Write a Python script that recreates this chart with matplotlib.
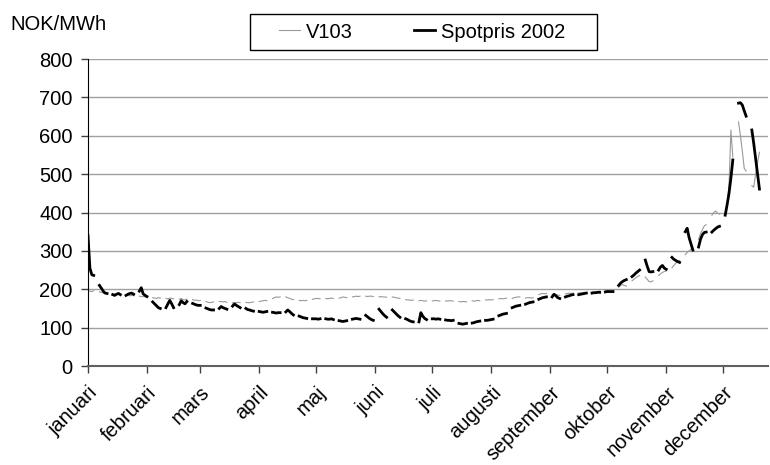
import matplotlib
matplotlib.use("Agg")
import matplotlib.pyplot as plt
from matplotlib.patches import Rectangle
import numpy as np
import pandas as pd

plt.rcParams['font.family'] = ['Liberation Sans', 'DejaVu Sans']

months = ['januari', 'februari', 'mars', 'april', 'maj', 'juni', 'juli',
          'augusti', 'september', 'oktober', 'november', 'december']

# weekday values (Mon-Fri) for 2002, one line per month
spot = [
    340, 255, 238, 236, 210, 203, 195, 190, 189, 186, 184, 187, 189, 186, 184, 187, 189, 190, 187, 195, 204, 188, 184,
    181, 167, 162, 157, 152, 150, 152, 162, 171, 162, 152, 160, 170, 165, 162, 168, 163, 161, 159, 158,
    158, 151, 149, 147, 146, 146, 150, 155, 152, 150, 148, 156, 162, 158, 155, 152, 150, 147, 146, 144, 143,
    142, 141, 140, 141, 142, 140, 139, 138, 139, 139, 141, 146, 142, 137, 133, 130, 128, 126, 125, 124, 123, 123,
    123, 122, 123, 123, 122, 122, 123, 121, 118, 117, 116, 117, 118, 122, 123, 124, 123, 122, 132, 128, 124, 121, 119,
    148, 142, 136, 131, 127, 146, 141, 136, 131, 127, 123, 121, 118, 116, 115, 115, 139, 130, 124, 121,
    123, 123, 122, 123, 122, 120, 119, 119, 118, 119, 111, 110, 109, 110, 111, 112, 113, 115, 116, 117, 119, 119, 120,
    121, 122, 131, 133, 135, 136, 137, 152, 154, 156, 157, 158, 161, 163, 165, 166, 167, 174, 176, 178, 179, 180,
    180, 187, 183, 178, 176, 180, 182, 183, 185, 186, 186, 187, 188, 189, 190, 190, 191, 191, 192, 192, 193,
    194, 194, 194, 194, 210, 216, 220, 223, 225, 233, 237, 242, 246, 250, 276, 260, 246, 245, 246, 250, 258, 262, 255,
    252, 283, 278, 275, 272, 270, 350, 359, 335, 318, 302, 310, 330, 342, 348, 349, 349, 354, 358, 362, 364,
    393, 420, 450, 490, 537, 685, 686, 680, 665, 651, 615, 580, 540, 500, 461,
]

v103 = [
    196, 195, 194, 196, 193, 192, 190, 189, 190, 188, 187, 186, 187, 186, 185, 184, 183, 184, 183, 182, 181, 181, 180,
    180, 178, 177, 176, 178, 177, 176, 175, 177, 176, 175, 174, 176, 173, 172, 174, 173, 171, 172, 170,
    171, 168, 166, 165, 166, 167, 168, 168, 167, 168, 166, 165, 164, 165, 166, 165, 166, 165, 165, 166, 167,
    168, 169, 170, 171, 170, 176, 178, 180, 179, 180, 180, 178, 176, 174, 173, 171, 170, 171, 170, 171, 174, 175,
    176, 176, 175, 176, 175, 176, 177, 176, 177, 178, 180, 179, 178, 180, 181, 182, 181, 182, 182, 181, 182, 182, 181,
    180, 181, 180, 180, 179, 180, 179, 178, 177, 176, 173, 172, 172, 171, 172, 170, 171, 170, 169, 170,
    170, 170, 171, 170, 169, 170, 169, 170, 170, 169, 168, 167, 168, 168, 167, 170, 169, 170, 171, 170, 172, 172, 173,
    172, 173, 175, 176, 175, 176, 177, 176, 178, 179, 180, 180, 177, 178, 178, 177, 178, 186, 188, 189, 188, 189,
    186, 185, 186, 185, 184, 188, 189, 190, 189, 190, 191, 190, 191, 192, 191, 193, 192, 193, 194, 195, 196,
    197, 198, 199, 198, 206, 210, 212, 210, 208, 222, 226, 230, 233, 236, 232, 226, 220, 219, 222, 236, 240, 244, 246,
    248, 256, 262, 268, 272, 275, 290, 296, 300, 304, 307, 330, 345, 355, 365, 368, 393, 400, 404, 398, 396,
    398, 420, 470, 615, 545, 636, 600, 560, 515, 508, 470, 466, 500, 530, 557,
]

workdays = pd.bdate_range('2002-01-01', '2002-12-20')
alldays = pd.date_range('2002-01-01', '2002-12-20')
s_spot = pd.Series(spot, index=workdays).reindex(alldays)
s_v103 = pd.Series(v103, index=workdays).reindex(alldays)

W, H = 770, 465
fs = 14.5
fig = plt.figure(figsize=(W / 100, H / 100), dpi=100)
ax = fig.add_axes([88 / W, 99 / H, 680 / W, 307 / H])

l1, = ax.plot(alldays, s_v103.values, color='#999999', lw=0.8, label='V103')
l2, = ax.plot(alldays, s_spot.values, color='black', lw=2.0, label='Spotpris 2002')

ax.set_ylim(0, 800)
ax.set_yticks(np.arange(0, 801, 100))
ax.yaxis.grid(True, color='#a0a0a0', lw=1)
ax.set_axisbelow(True)
ax.set_xlim(pd.Timestamp('2002-01-01'), pd.Timestamp('2002-12-24 12:00'))
ax.set_xticks(pd.date_range('2002-01-01', periods=12, freq='MS'))
ax.set_xticklabels(months, rotation=45, ha='right', rotation_mode='anchor')
ax.tick_params(axis='both', direction='out', length=5, width=1, labelsize=fs, color='#404040')
ax.tick_params(axis='x', pad=7)
ax.tick_params(axis='y', pad=6)
for side in ['top', 'right']:
    ax.spines[side].set_visible(False)
ax.spines['left'].set_color('black')
ax.spines['bottom'].set_color('#606060')
ax.spines['bottom'].set_linewidth(1.5)

fig.text(10 / W, 1 - 24 / H, 'NOK/MWh', fontsize=fs, va='center', ha='left')

# legend box drawn as a plain rectangle, entries as a frameless legend
fig.patches.append(Rectangle((250 / W, 1 - 50 / H), 347 / W, 36 / H, transform=fig.transFigure,
                             facecolor='white', edgecolor='black', lw=1))
fig.legend(handles=[l1, l2], loc='center', bbox_to_anchor=(422 / W, 1 - 32 / H),
           ncol=2, fontsize=fs, frameon=False, handlelength=1.05,
           handletextpad=0.3, columnspacing=3.0, borderpad=0)

fig.savefig('out.png', dpi=100)
